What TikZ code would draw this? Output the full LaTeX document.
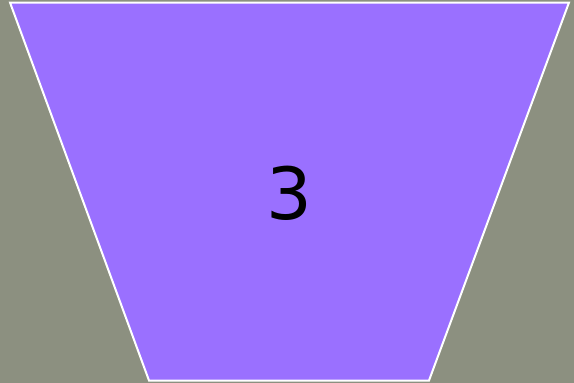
\documentclass[tikz,border=0pt]{standalone}
\usepackage{fontspec}
\newfontfamily\digitfont{DejaVu Sans}
\definecolor{bgc}{HTML}{8C9080}
\definecolor{trap}{HTML}{9A70FF}
\begin{document}
\begin{tikzpicture}[x=1pt,y=-1pt,
  trapstyle/.style={fill=trap,draw=white,line width=2pt,line join=miter}]
\fill[bgc] (0,0) rectangle (574,383);
\useasboundingbox (0,0) rectangle (574,383);
\coordinate (tl) at (10,2.5);
\coordinate (tr) at (569,2.5);
\coordinate (br) at (429,380.5);
\coordinate (bl) at (149,380.5);
\draw[trapstyle] (tl) -- (tr) -- (br) -- (bl) -- cycle;
\node[font=\digitfont\fontsize{72}{80}\selectfont,text=black,inner sep=0pt] (lbl) at (289,193) {3};
\end{tikzpicture}
\end{document}
